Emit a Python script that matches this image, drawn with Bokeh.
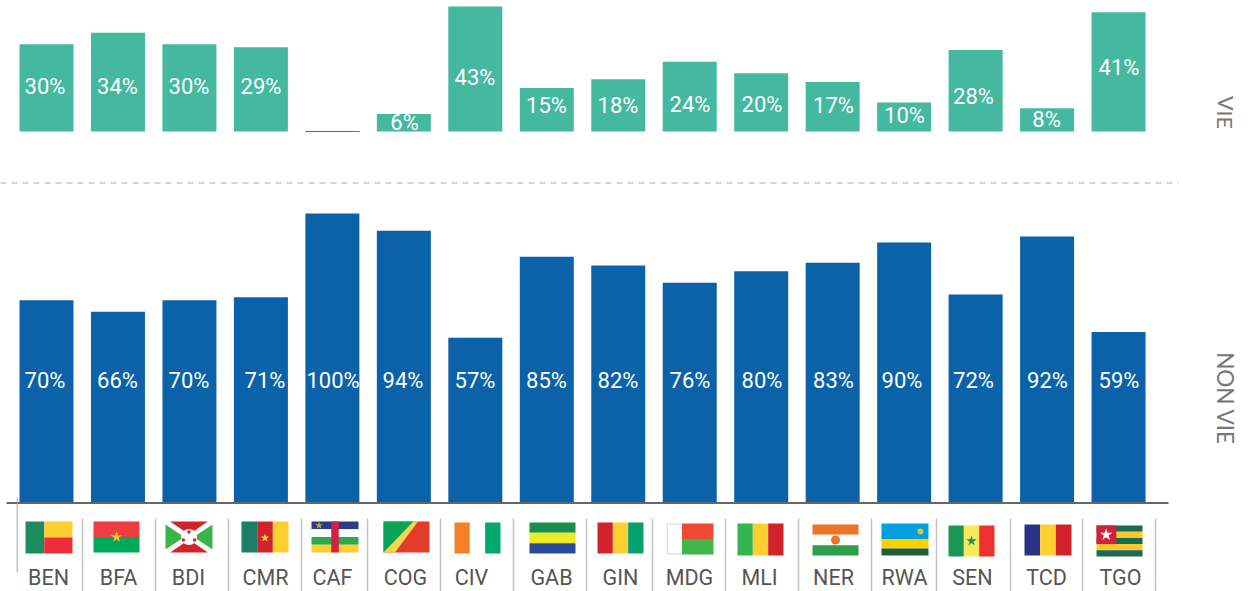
from bokeh.plotting import figure
from bokeh.models import Range1d, ColumnDataSource
from bokeh.core.properties import value
from bokeh.embed import file_html
from bokeh.resources import INLINE

codes = ["BEN", "BFA", "BDI", "CMR", "CAF", "COG", "CIV", "GAB", "GIN", "MDG", "MLI", "NER", "RWA", "SEN", "TCD", "TGO"]
vie = [30, 34, 30, 29, 0, 6, 43, 15, 18, 24, 20, 17, 10, 28, 8, 41]
non_vie = [70, 66, 70, 71, 100, 94, 57, 85, 82, 76, 80, 83, 90, 72, 92, 59]
vie_labels = ["30%", "34%", "30%", "29%", "", "6%", "43%", "15%", "18%", "24%", "20%", "17%", "10%", "28%", "8%", "41%"]
non_vie_labels = ["70%", "66%", "70%", "71%", "100%", "94%", "57%", "85%", "82%", "76%", "80%", "83%", "90%", "72%", "92%", "59%"]

W, H = 1248, 591
TEAL, BLUE, GREY = "#45b8a0", "#0b62a8", "#555555"

# label placement in picture pixels
vie_label_x = [44.5, 117, 188.5, 260.5, 332, 404, 474.5, 546, 617.5, 689.5, 761.5, 833, 904, 973, 1046, 1118.5]
vie_label_y = [86, 86, 86, 86, 122, 122, 77, 105, 105, 104, 104, 105, 115, 96, 119, 67]
non_label_x = [44.5, 117, 188.5, 264.5, 332.5, 402.5, 474.5, 546, 617.5, 689.5, 761.5, 833, 901.5, 973, 1047, 1118.5]
NON_LABEL_Y = 380

p = figure(width=W, height=H, output_backend="svg", toolbar_location=None, min_border=0,
           x_range=Range1d(-46 / 71.47, (W - 46) / 71.47),
           y_range=Range1d(-89 / 2.89, 502 / 2.89))
p.margin = (0, 0, 0, 0)
p.outline_line_color = None
p.xaxis.visible = False
p.yaxis.visible = False
p.grid.visible = False
p.background_fill_color = "white"
p.extra_y_ranges = {"vie": Range1d((131 - H) / 2.907, 131 / 2.907), "px": Range1d(H, 0)}
p.extra_x_ranges = {"px": Range1d(0, W)}

idx = list(range(len(codes)))
src = ColumnDataSource(dict(
    x=idx, code=codes, vie=vie, non=non_vie,
    edge=[1 if v == 0 else 0 for v in vie],
))

p.vbar(x="x", top="vie", bottom=0, width=54 / 71.47, source=src, y_range_name="vie",
       fill_color=TEAL, line_color="#0f948a", line_alpha="edge", line_width=1)
p.vbar(x="x", top="non", bottom=0, width=54 / 71.47, source=src, fill_color=BLUE, line_color=None)

p.text(x=vie_label_x, y=vie_label_y, text=vie_labels, x_range_name="px", y_range_name="px", text_color="white",
       text_font=value("Roboto"), text_font_size="22px", text_align="center", text_baseline="middle")
p.text(x=non_label_x, y=[NON_LABEL_Y] * len(codes), text=non_vie_labels, x_range_name="px", y_range_name="px",
       text_color="white", text_font=value("Roboto"), text_font_size="22px", text_align="center", text_baseline="middle")

# decoration in picture coordinates
def seg(x0, y0, x1, y1, **kw):
    p.line([x0, x1], [y0, y1], x_range_name="px", y_range_name="px", **kw)

seg(0, 182.5, 1178, 182.5, line_color="#aaaaaa", line_width=1, line_dash="6 5")
seg(6, 502.5, 1168, 502.5, line_color="#666666", line_width=2)
seg(16.7, 497, 16.7, 572, line_color="#a8a8a8", line_width=1)
for sx in [82, 155, 228, 301, 367, 440, 513, 586, 652, 725, 798, 871, 936, 1010, 1082, 1155]:
    seg(sx, 518, sx, 591, line_color="#c0c4c4", line_width=1.5)

label_x = [48, 118, 188, 265, 332, 405, 471, 551, 620, 689, 759, 833, 904, 972, 1046, 1120]
p.text(x=label_x, y=[577] * 16, text=codes, x_range_name="px", y_range_name="px", text_color=GREY,
       text_font=value("Roboto"), text_font_size="21.5px", text_align="center", text_baseline="middle")

for txt, yc, fs in [("VIE", 112, "21.5px"), ("NON VIE", 398, "22.5px")]:
    p.text(x=[1225], y=[yc], text=[txt], x_range_name="px", y_range_name="px", angle=-1.5708,
           text_color="#777777", text_font=value("Lato"), text_font_size=fs,
           text_align="center", text_baseline="middle")

# flags: box in picture pixels, parts in fractions of the box
boxes = {
    "BEN": (25, 72, 521, 553), "BFA": (93, 139, 521, 552), "BDI": (165, 212, 521, 552),
    "CMR": (241, 288, 521, 552), "CAF": (311, 358, 521, 552), "COG": (383, 429, 521, 552),
    "CIV": (454, 500, 522, 553), "GAB": (529, 575, 522, 553), "GIN": (597, 643, 522, 553),
    "MDG": (666, 713, 523, 554), "MLI": (737, 783, 523, 555), "NER": (812, 858, 524, 555),
    "RWA": (881, 928, 523, 555), "SEN": (948, 994, 525, 556), "TCD": (1024, 1071, 524, 555),
    "TGO": (1096, 1142, 525, 556),
}

def r(x0, y0, x1, y1, c):
    return ([x0, x1, x1, x0], [y0, y0, y1, y1], c)

def vtri(c1, c2, c3):
    return [r(0, 0, 1 / 3, 1, c1), r(1 / 3, 0, 2 / 3, 1, c2), r(2 / 3, 0, 1, 1, c3)]

def htri(c1, c2, c3, a=1 / 3, b=2 / 3):
    return [r(0, 0, 1, a, c1), r(0, a, 1, b, c2), r(0, b, 1, 1, c3)]

RED, YEL = "#d2232d", "#fdcf30"
parts = {
    "BEN": [r(0, 0, .4, 1, "#1d8c60"), r(.4, 0, 1, .5, YEL), r(.4, .5, 1, 1, "#ee2c3a")],
    "BFA": [r(0, 0, 1, .5, "#ef3e42"), r(0, .5, 1, 1, "#00a859")],
    "BDI": [r(0, 0, 1, 1, "white"),
            ([.1, .9, .5], [0, 0, .42], RED), ([.1, .9, .5], [1, 1, .58], RED),
            ([0, 0, .4], [.1, .9, .5], "#39b54a"), ([1, 1, .6], [.1, .9, .5], "#39b54a")],
    "CMR": vtri("#1b7f68", RED, YEL),
    "CAF": [r(0, 0, 1, .25, "#2a3a8c"), r(0, .25, 1, .5, "white"), r(0, .5, 1, .75, "#2fa84f"),
            r(0, .75, 1, 1, YEL), r(.42, 0, .58, 1, "#d2204a")],
    "COG": [r(0, 0, 1, 1, "#e23c2a"), ([0, .75, .25, 0], [0, 0, 1, 1], "#f6d44d"), ([0, .65, 0], [0, 0, 1], "#0ba358")],
    "CIV": vtri("#f58025", "white", "#00a86b"),
    "GAB": htri("#1a8f4d", "#eeea24", "#2a4b9b"),
    "GIN": vtri(RED, YEL, "#079e70"),
    "MDG": [r(0, 0, .33, 1, "#dddddd"), r(.03, .04, .33, .96, "white"), r(.33, 0, 1, .5, "#f04a36"), r(.33, .5, 1, 1, "#3fb54a")],
    "MLI": vtri("#32b450", YEL, RED),
    "NER": htri("#ee7429", "white", "#2f9e48"),
    "RWA": htri("#00a0e0", "#fbd400", "#1f5e3a", .5, .78),
    "SEN": vtri("#1b9655", "#f7e95c", "#ee3030"),
    "TCD": vtri("#2a3288", YEL, RED),
    "TGO": [r(0, 0, 1, .2, "#1a6b52"), r(0, .2, 1, .4, "#fcc72a"), r(0, .4, 1, .6, "#1a6b52"),
            r(0, .6, 1, .8, "#fcc72a"), r(0, .8, 1, 1, "#1a6b52"), r(0, 0, .43, .6, "#d2203a")],
}
marks = [
    ("BFA", .5, .5, "star", 12, "#f7c532"), ("CMR", .5, .53, "star", 9, YEL), ("CAF", .16, .13, "star", 8, "#c9a24a"),
    ("BDI", .5, .5, "circle", 16, "white"), ("BDI", .5, .34, "circle", 3.5, RED), ("BDI", .38, .6, "circle", 3.5, RED),
    ("BDI", .62, .6, "circle", 3.5, RED), ("NER", .5, .5, "circle", 9, "#ee7429"), ("RWA", .83, .25, "circle", 6, "#d8c838"),
    ("SEN", .5, .5, "star", 11, "#1b9655"), ("TGO", .21, .3, "star", 13, "white"),
]

xs, ys, cs = [], [], []
for code in codes:
    x0, x1, y0, y1 = boxes[code]
    for fx, fy, c in parts[code]:
        xs.append([x0 + f * (x1 - x0) for f in fx])
        ys.append([y0 + f * (y1 - y0) for f in fy])
        cs.append(c)
p.patches(xs, ys, fill_color=cs, line_color=None, x_range_name="px", y_range_name="px")
for code, fx, fy, mk, sz, c in marks:
    x0, x1, y0, y1 = boxes[code]
    p.scatter([x0 + fx * (x1 - x0)], [y0 + fy * (y1 - y0)], marker=mk, size=sz, fill_color=c, line_color=None,
              x_range_name="px", y_range_name="px")

open("out.html", "w").write(file_html(p, INLINE))
